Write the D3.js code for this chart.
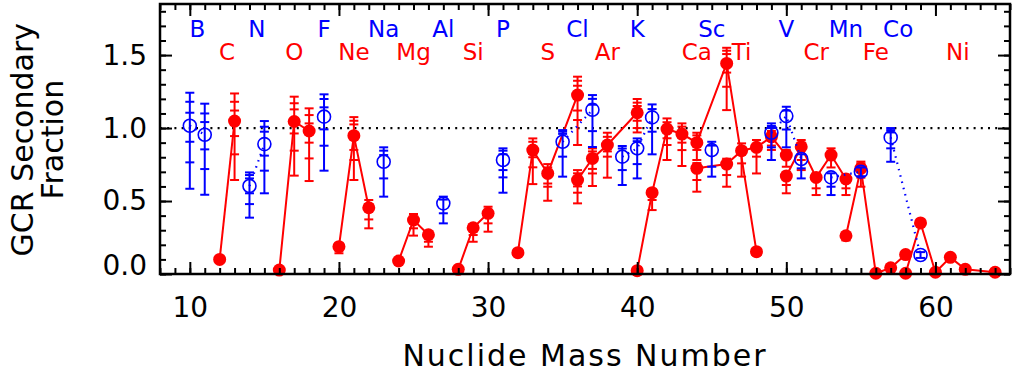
<!DOCTYPE html>
<html>
<head>
<meta charset="utf-8">
<script src="https://cdn.jsdelivr.net/npm/d3@7"></script>
<style>
  body { margin: 0; background: #fff; }
  text { font-family: "DejaVu Sans ExtraLight", "DejaVu Sans", sans-serif; }
</style>
</head>
<body>
<svg id="chart" width="1019" height="373"></svg>
<script>
// even-Z isotopes (red): element, mass number, fraction, upper caps, lower caps
const evenZ = [
  {el: "C",  A: 12, f: 0.10,  hi: [], lo: []},
  {el: "C",  A: 13, f: 1.048, hi: [1.12, 1.18, 1.237], lo: [0.945, 0.82, 0.644]},
  {el: "O",  A: 16, f: 0.027, hi: [], lo: []},
  {el: "O",  A: 17, f: 1.045, hi: [1.128, 1.17, 1.215], lo: [0.963, 0.845, 0.674]},
  {el: "O",  A: 18, f: 0.98,  hi: [1.032, 1.089, 1.135], lo: [0.90, 0.792, 0.637]},
  {el: "Ne", A: 20, f: 0.187, hi: [0.20], lo: [0.142]},
  {el: "Ne", A: 21, f: 0.948, hi: [1.025, 1.05, 1.075], lo: [0.85, 0.781, 0.644]},
  {el: "Ne", A: 22, f: 0.454, hi: [0.48, 0.507], lo: [0.374, 0.313]},
  {el: "Mg", A: 24, f: 0.089, hi: [], lo: []},
  {el: "Mg", A: 25, f: 0.37,  hi: [0.411], lo: [0.313, 0.263]},
  {el: "Mg", A: 26, f: 0.269, hi: [0.29], lo: [0.221, 0.187]},
  {el: "Si", A: 28, f: 0.032, hi: [], lo: []},
  {el: "Si", A: 29, f: 0.317, hi: [0.34], lo: [0.267, 0.221]},
  {el: "Si", A: 30, f: 0.416, hi: [0.461], lo: [0.347, 0.29]},
  {el: "S",  A: 32, f: 0.146, hi: [], lo: []},
  {el: "S",  A: 33, f: 0.849, hi: [0.906, 0.929], lo: [0.80, 0.731, 0.616]},
  {el: "S",  A: 34, f: 0.689, hi: [0.73, 0.753], lo: [0.62, 0.598, 0.502]},
  {el: "S",  A: 36, f: 1.226, hi: [1.29, 1.324, 1.352], lo: [1.12, 1.055, 0.884]},
  {el: "Ar", A: 36, f: 0.644, hi: [0.69, 0.712], lo: [0.60, 0.557, 0.484]},
  {el: "Ar", A: 37, f: 0.792, hi: [0.84, 0.861], lo: [0.72, 0.689, 0.603]},
  {el: "Ar", A: 38, f: 0.884, hi: [0.94, 0.968], lo: [0.84, 0.804, 0.66]},
  {el: "Ar", A: 40, f: 1.105, hi: [1.151, 1.174, 1.199], lo: [1.05, 1.0, 0.97]},
  {el: "Ca", A: 40, f: 0.023, hi: [], lo: []},
  {el: "Ca", A: 41, f: 0.557, hi: [0.58], lo: [0.507, 0.438]},
  {el: "Ca", A: 42, f: 0.993, hi: [1.04, 1.066], lo: [0.93, 0.884, 0.781]},
  {el: "Ca", A: 43, f: 0.959, hi: [1.01, 1.032], lo: [0.90, 0.849, 0.74]},
  {el: "Ca", A: 44, f: 0.90,  hi: [0.95, 0.968], lo: [0.85, 0.781]},
  {el: "Ca", A: 46, f: 1.443, hi: [1.507, 1.53, 1.55], lo: [1.38, 1.283, 1.123]},
  {el: "Ca", A: 48, f: 0.153, hi: [], lo: []},
  {el: "Ti", A: 44, f: 0.724, hi: [0.76], lo: [0.644, 0.564]},
  {el: "Ti", A: 46, f: 0.753, hi: [0.79], lo: [0.678, 0.598]},
  {el: "Ti", A: 47, f: 0.845, hi: [0.895], lo: [0.758, 0.667]},
  {el: "Ti", A: 48, f: 0.868, hi: [0.918], lo: [0.804, 0.689]},
  {el: "Ti", A: 49, f: 0.94,  hi: [0.98, 1.0], lo: [0.88, 0.85]},
  {el: "Ti", A: 50, f: 0.815, hi: [0.849], lo: [0.735]},
  {el: "Cr", A: 50, f: 0.671, hi: [0.70], lo: [0.61, 0.553]},
  {el: "Cr", A: 51, f: 0.872, hi: [0.90, 0.918], lo: [0.781, 0.712]},
  {el: "Cr", A: 52, f: 0.662, hi: [0.69], lo: [0.587, 0.541]},
  {el: "Cr", A: 53, f: 0.815, hi: [0.861], lo: [0.73]},
  {el: "Cr", A: 54, f: 0.651, hi: [0.68], lo: [0.587, 0.541]},
  {el: "Fe", A: 54, f: 0.262, hi: [], lo: [0.23]},
  {el: "Fe", A: 55, f: 0.724, hi: [0.758, 0.77], lo: [0.66, 0.598]},
  {el: "Fe", A: 56, f: 0.005, hi: [], lo: []},
  {el: "Fe", A: 57, f: 0.042, hi: [], lo: []},
  {el: "Fe", A: 58, f: 0.133, hi: [], lo: []},
  {el: "Ni", A: 58, f: 0.005, hi: [], lo: []},
  {el: "Ni", A: 59, f: 0.35,  hi: [], lo: []},
  {el: "Ni", A: 60, f: 0.012, hi: [], lo: []},
  {el: "Ni", A: 61, f: 0.114, hi: [], lo: []},
  {el: "Ni", A: 62, f: 0.032, hi: [], lo: []},
  {el: "Ni", A: 64, f: 0.012, hi: [], lo: []}
]

// odd-Z isotopes (blue)
const oddZ = [
  {el: "B",  A: 10, f: 1.016, hi: [1.105, 1.18, 1.242], lo: [0.906, 0.765, 0.584]},
  {el: "B",  A: 11, f: 0.954, hi: [1.041, 1.10, 1.167], lo: [0.854, 0.719, 0.543]},
  {el: "N",  A: 14, f: 0.603, hi: [0.655, 0.678, 0.696], lo: [0.553, 0.479, 0.386]},
  {el: "N",  A: 15, f: 0.890, hi: [0.975, 1.009, 1.048], lo: [0.811, 0.708, 0.553]},
  {el: "F",  A: 19, f: 1.078, hi: [1.142, 1.199, 1.231], lo: [0.991, 0.879, 0.708]},
  {el: "Na", A: 23, f: 0.769, hi: [0.815, 0.845, 0.868], lo: [0.655, 0.53]},
  {el: "Al", A: 27, f: 0.484, hi: [0.51, 0.53], lo: [0.416, 0.347]},
  {el: "P",  A: 31, f: 0.781, hi: [0.82, 0.845, 0.861], lo: [0.712, 0.662, 0.557]},
  {el: "Cl", A: 35, f: 0.906, hi: [0.96, 0.975, 0.986], lo: [0.804, 0.667]},
  {el: "Cl", A: 37, f: 1.125, hi: [1.16, 1.20, 1.226], lo: [0.979, 0.87]},
  {el: "K",  A: 39, f: 0.804, hi: [0.86, 0.877], lo: [0.712, 0.61]},
  {el: "K",  A: 40, f: 0.861, hi: [0.91, 0.929], lo: [0.753, 0.655]},
  {el: "K",  A: 41, f: 1.073, hi: [1.13, 1.162], lo: [0.975, 0.82]},
  {el: "Sc", A: 45, f: 0.849, hi: [0.88, 0.906], lo: [0.735, 0.667]},
  {el: "V",  A: 49, f: 0.968, hi: [1.0, 1.014, 1.032], lo: [0.868, 0.781]},
  {el: "V",  A: 50, f: 1.082, hi: [1.12, 1.146], lo: [0.99, 0.868]},
  {el: "V",  A: 51, f: 0.788, hi: [0.82], lo: [0.724, 0.655]},
  {el: "Mn", A: 53, f: 0.662, hi: [0.69], lo: [0.598, 0.541]},
  {el: "Mn", A: 55, f: 0.701, hi: [0.73], lo: [0.67]},
  {el: "Co", A: 57, f: 0.936, hi: [0.97, 0.986, 1.0], lo: [0.861, 0.769]},
  {el: "Co", A: 59, f: 0.130, hi: [0.15], lo: [0.11]}
]

// element names along the top, at a mass position
const oddLabels = [["B", 10.5], ["N", 14.5], ["F", 19], ["Na", 23], ["Al", 27], ["P", 31],
  ["Cl", 36], ["K", 40], ["Sc", 45], ["V", 50], ["Mn", 54], ["Co", 57.5]]
const evenLabels = [["C", 12.5], ["O", 17], ["Ne", 21], ["Mg", 25], ["Si", 29], ["S", 34],
  ["Ar", 38], ["Ca", 44], ["Ti", 47], ["Cr", 52], ["Fe", 56], ["Ni", 61.5]]

const xTicks = [10, 20, 30, 40, 50, 60]
const yTicks = [0, 0.5, 1.0, 1.5]

const RED = "#ff0000", BLUE = "#0000ff"
const margin = {top: 4, right: 9, bottom: 99, left: 160}
const width = 1019, height = 373

const x = d3.scaleLinear().domain([8, 65]).range([margin.left, width - margin.right])
const y = d3.scaleLinear().domain([0, 1.85]).range([height - margin.bottom, margin.top])

const svg = d3.select("#chart")

// reference line at 1
svg.append("line")
  .attr("x1", x(8)).attr("x2", x(65))
  .attr("y1", y(1)).attr("y2", y(1))
  .attr("stroke", "#000").attr("stroke-width", 2.2)
  .attr("stroke-dasharray", "2,5.2")

const line = d3.line().x(d => x(d.A)).y(d => y(d.f))

function drawSeries(data, color, dotted, filled) {
  const g = svg.append("g")
  // connect isotopes of the same element
  for (const [, pts] of d3.group(data, d => d.el)) {
    if (pts.length < 2) continue
    g.append("path")
      .attr("d", line(pts))
      .attr("fill", "none")
      .attr("stroke", color)
      .attr("stroke-width", dotted ? 2.2 : 2)
      .attr("stroke-dasharray", dotted ? "1.5,5" : null)
  }
  // error bars with up to three cap levels
  const eb = g.selectAll(".eb").data(data).join("g")
    .attr("stroke", color).attr("stroke-width", 2)
  eb.filter(d => d.hi.length || d.lo.length).append("line")
    .attr("x1", d => x(d.A)).attr("x2", d => x(d.A))
    .attr("y1", d => y(d3.max(d.hi.concat([d.f]))))
    .attr("y2", d => y(d3.min(d.lo.concat([d.f]))))
  eb.selectAll(".cap").data(d => d.hi.concat(d.lo).map(v => ({A: d.A, v})))
    .join("line")
    .attr("x1", c => x(c.A) - 4.5).attr("x2", c => x(c.A) + 4.5)
    .attr("y1", c => y(c.v)).attr("y2", c => y(c.v))
  g.selectAll("circle").data(data).join("circle")
    .attr("cx", d => x(d.A)).attr("cy", d => y(d.f))
    .attr("r", 6.5)
    .attr("fill", filled ? color : "none")
    .attr("stroke", color).attr("stroke-width", filled ? 0 : 1.6)
}

drawSeries(evenZ, RED, false, true)
drawSeries(oddZ, BLUE, true, false)

// element labels
svg.append("g").selectAll("text").data(oddLabels).join("text")
  .attr("x", d => x(d[1])).attr("y", 37)
  .attr("text-anchor", "middle").attr("font-size", 23).attr("fill", BLUE)
  .text(d => d[0])
svg.append("g").selectAll("text").data(evenLabels).join("text")
  .attr("x", d => x(d[1])).attr("y", 60)
  .attr("text-anchor", "middle").attr("font-size", 23).attr("fill", RED)
  .text(d => d[0])

// axes: ticks pointing inward on all four sides
const minorX = d3.range(8, 66)
const minorY = d3.range(0, 1.85, 0.1)
const styleAxis = g => {
  g.select(".domain").remove()
  g.selectAll(".tick line").attr("stroke", "#000").attr("stroke-width", 2)
  g.selectAll("text").attr("font-size", 28).attr("fill", "#000")
}

svg.append("g").attr("transform", `translate(0,${y(0)})`)
  .call(d3.axisBottom(x).tickValues(minorX).tickSize(-6).tickFormat(""))
  .call(styleAxis)
svg.append("g").attr("transform", `translate(0,${y(0)})`)
  .call(d3.axisBottom(x).tickValues(xTicks).tickSize(-12).tickPadding(23).tickFormat(d3.format("d")))
  .call(styleAxis)
svg.append("g").attr("transform", `translate(0,${margin.top})`)
  .call(d3.axisTop(x).tickValues(minorX).tickSize(-6).tickFormat(""))
  .call(styleAxis)
svg.append("g").attr("transform", `translate(0,${margin.top})`)
  .call(d3.axisTop(x).tickValues(xTicks).tickSize(-12).tickFormat(""))
  .call(styleAxis)

svg.append("g").attr("transform", `translate(${margin.left},0)`)
  .call(d3.axisLeft(y).tickValues(minorY).tickSize(-6).tickFormat(""))
  .call(styleAxis)
const yl = svg.append("g").attr("transform", `translate(${margin.left},0)`)
  .call(d3.axisLeft(y).tickValues(yTicks).tickSize(-12).tickPadding(13).tickFormat(d3.format(".1f")))
  .call(styleAxis)
yl.selectAll(".tick text").filter(d => d === 0).attr("dy", "0.02em")
svg.append("g").attr("transform", `translate(${width - margin.right},0)`)
  .call(d3.axisRight(y).tickValues(minorY).tickSize(-6).tickFormat(""))
  .call(styleAxis)
svg.append("g").attr("transform", `translate(${width - margin.right},0)`)
  .call(d3.axisRight(y).tickValues(yTicks).tickSize(-12).tickFormat(""))
  .call(styleAxis)

// frame
svg.append("rect")
  .attr("x", margin.left).attr("y", margin.top)
  .attr("width", width - margin.left - margin.right)
  .attr("height", height - margin.top - margin.bottom)
  .attr("fill", "none").attr("stroke", "#000").attr("stroke-width", 2.5)

// axis titles
svg.append("text")
  .attr("x", x(36.5)).attr("y", 366)
  .attr("text-anchor", "middle").attr("font-size", 30).attr("letter-spacing", 2)
  .text("Nuclide Mass Number")
svg.append("text")
  .attr("transform", `translate(33,${y(0.92)}) rotate(-90)`)
  .attr("text-anchor", "middle").attr("font-size", 30)
  .text("GCR Secondary")
svg.append("text")
  .attr("transform", `translate(63,${y(0.92)}) rotate(-90)`)
  .attr("text-anchor", "middle").attr("font-size", 30)
  .text("Fraction")
</script>
</body>
</html>
